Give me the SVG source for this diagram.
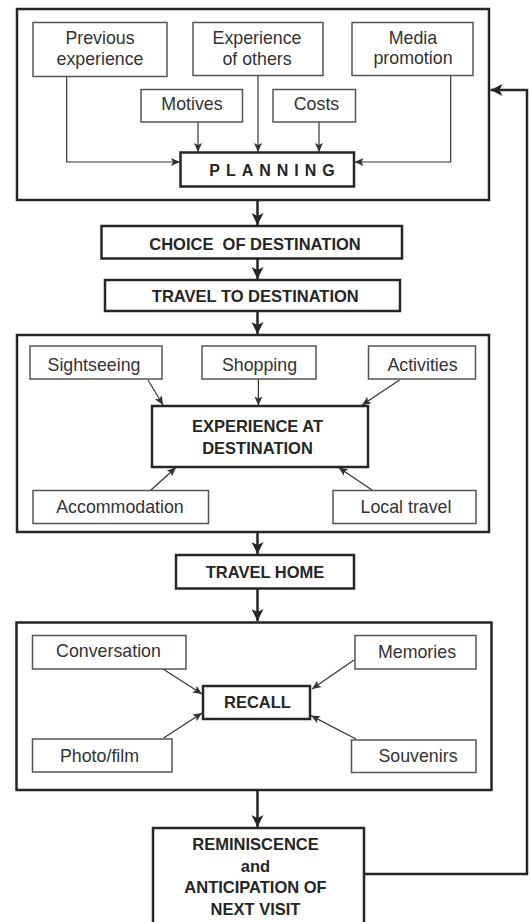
<svg xmlns="http://www.w3.org/2000/svg" width="531" height="922" viewBox="0 0 531 922">
<style>
.bg{fill:#fff}
.outer{fill:none;stroke:#262626;stroke-width:2.5}
.box{fill:#fff;stroke:#555;stroke-width:1.5}
.bbox{fill:#fff;stroke:#262626;stroke-width:2.5}
.t{font-family:"Liberation Sans",Arial,sans-serif;font-size:17.8px;fill:#333;text-anchor:middle}
.b{font-family:"Liberation Sans",Arial,sans-serif;font-size:16.5px;font-weight:bold;fill:#262626;text-anchor:middle}
.thin{fill:none;stroke:#333;stroke-width:1.2}
.thick{fill:none;stroke:#262626;stroke-width:2.5}
</style>
<defs>
<marker id="ah" markerUnits="userSpaceOnUse" markerWidth="10" markerHeight="8" refX="9" refY="4" orient="auto">
<path d="M0,0 L9,4 L0,8 L2,4 Z" fill="#333"/>
</marker>
<marker id="ahb" markerUnits="userSpaceOnUse" markerWidth="14" markerHeight="12" refX="12" refY="6" orient="auto">
<path d="M0,0 L12,6 L0,12 L3,6 Z" fill="#262626"/>
</marker>
</defs>
<rect class="bg" x="0" y="0" width="531" height="922"/>

<g id="planning-group">
<rect class="outer" x="17" y="9" width="472" height="191"/>
</g>
<g id="experience-group">
<rect class="outer" x="17" y="335" width="472" height="197"/>
</g>
<g id="recall-group">
<rect class="outer" x="16.5" y="622.5" width="475" height="167.5"/>
</g>

<g id="connectors">
<path class="thin" d="M66.7,76.5 V162 H180" marker-end="url(#ah)"/>
<path class="thin" d="M258,75 V152" marker-end="url(#ah)"/>
<path class="thin" d="M450.7,75 V162 H354.5" marker-end="url(#ah)"/>
<path class="thin" d="M198,122 V152" marker-end="url(#ah)"/>
<path class="thin" d="M319,122 V152" marker-end="url(#ah)"/>
<path class="thin" d="M148,380 L163,405" marker-end="url(#ah)"/>
<path class="thin" d="M258.4,379 V405.5" marker-end="url(#ah)"/>
<path class="thin" d="M399.6,380 L362,405" marker-end="url(#ah)"/>
<path class="thin" d="M151,490 L176,467.5" marker-end="url(#ah)"/>
<path class="thin" d="M372,490 L338.6,467.5" marker-end="url(#ah)"/>
<path class="thin" d="M163,669 L202,694" marker-end="url(#ah)"/>
<path class="thin" d="M354,660 L312,689" marker-end="url(#ah)"/>
<path class="thin" d="M163.6,738 L202,713" marker-end="url(#ah)"/>
<path class="thin" d="M356,739 L311,715.6" marker-end="url(#ah)"/>
<path class="thick" d="M257.5,200 V225" marker-end="url(#ahb)"/>
<path class="thick" d="M257.5,259 V279" marker-end="url(#ahb)"/>
<path class="thick" d="M257.5,311 V334" marker-end="url(#ahb)"/>
<path class="thick" d="M257.5,532 V554" marker-end="url(#ahb)"/>
<path class="thick" d="M257.5,589 V621" marker-end="url(#ahb)"/>
<path class="thick" d="M257.5,790 V827" marker-end="url(#ahb)"/>
<path class="thick" d="M364,874 H527 V90 H490.5" marker-end="url(#ahb)"/>
</g>

<g id="previous-experience">
<rect class="box" x="33" y="22.5" width="134" height="54"/>
<text class="t" x="100" y="44">Previous</text>
<text class="t" x="100" y="65">experience</text>
</g>
<g id="experience-of-others">
<rect class="box" x="193" y="22.5" width="130" height="53"/>
<text class="t" x="257" y="44">Experience</text>
<text class="t" x="257" y="65">of others</text>
</g>
<g id="media-promotion">
<rect class="box" x="352" y="22.5" width="121" height="53"/>
<text class="t" x="413" y="44">Media</text>
<text class="t" x="413" y="64">promotion</text>
</g>
<g id="motives">
<rect class="box" x="141" y="89.5" width="101.5" height="32.5"/>
<text class="t" x="192" y="110">Motives</text>
</g>
<g id="costs">
<rect class="box" x="273" y="89.5" width="82.5" height="32.5"/>
<text class="t" x="316.5" y="110">Costs</text>
</g>
<g id="planning">
<rect class="bbox" x="180.5" y="152.5" width="173.5" height="34"/>
<text class="b" x="275" y="176" letter-spacing="6" style="font-size:16px">PLANNING</text>
</g>

<g id="choice-of-destination">
<rect class="bbox" x="101.5" y="226" width="300.5" height="32.5"/>
<text class="b" x="255" y="249.5" xml:space="preserve">CHOICE  OF DESTINATION</text>
</g>
<g id="travel-to-destination">
<rect class="bbox" x="105" y="280" width="295" height="31"/>
<text class="b" x="255.3" y="301.5">TRAVEL TO DESTINATION</text>
</g>

<g id="sightseeing">
<rect class="box" x="30" y="346" width="132" height="33"/>
<text class="t" x="94" y="370.5">Sightseeing</text>
</g>
<g id="shopping">
<rect class="box" x="202" y="346" width="114" height="33"/>
<text class="t" x="259.5" y="370.5">Shopping</text>
</g>
<g id="activities">
<rect class="box" x="368.5" y="346" width="107" height="33"/>
<text class="t" x="422.5" y="370.5">Activities</text>
</g>
<g id="experience-at-destination">
<rect class="bbox" x="152" y="406" width="216" height="61"/>
<text class="b" x="257.5" y="431.5">EXPERIENCE AT</text>
<text class="b" x="257.5" y="453.5">DESTINATION</text>
</g>
<g id="accommodation">
<rect class="box" x="33" y="490.5" width="175.5" height="33"/>
<text class="t" x="120" y="513">Accommodation</text>
</g>
<g id="local-travel">
<rect class="box" x="333" y="490.5" width="143" height="33"/>
<text class="t" x="406" y="513">Local travel</text>
</g>

<g id="travel-home">
<rect class="bbox" x="176" y="555" width="178" height="33.5"/>
<text class="b" x="265" y="578">TRAVEL HOME</text>
</g>

<g id="conversation">
<rect class="box" x="32.5" y="635.5" width="153.5" height="33.5"/>
<text class="t" x="108.5" y="656.5">Conversation</text>
</g>
<g id="memories">
<rect class="box" x="355" y="635.5" width="121" height="33.5"/>
<text class="t" x="417" y="658">Memories</text>
</g>
<g id="recall">
<rect class="bbox" x="203" y="686" width="107" height="33"/>
<text class="b" x="257.5" y="708">RECALL</text>
</g>
<g id="photo-film">
<rect class="box" x="32.5" y="739" width="139.5" height="33"/>
<text class="t" x="99.5" y="761.5">Photo/film</text>
</g>
<g id="souvenirs">
<rect class="box" x="351.5" y="740" width="124.5" height="32.5"/>
<text class="t" x="418" y="762">Souvenirs</text>
</g>

<g id="reminiscence">
<rect class="bbox" x="153" y="828" width="211" height="100"/>
<text class="b" x="255.5" y="850">REMINISCENCE</text>
<text class="b" x="255.5" y="872">and</text>
<text class="b" x="255.5" y="893">ANTICIPATION OF</text>
<text class="b" x="255.5" y="915">NEXT VISIT</text>
</g>
</svg>
